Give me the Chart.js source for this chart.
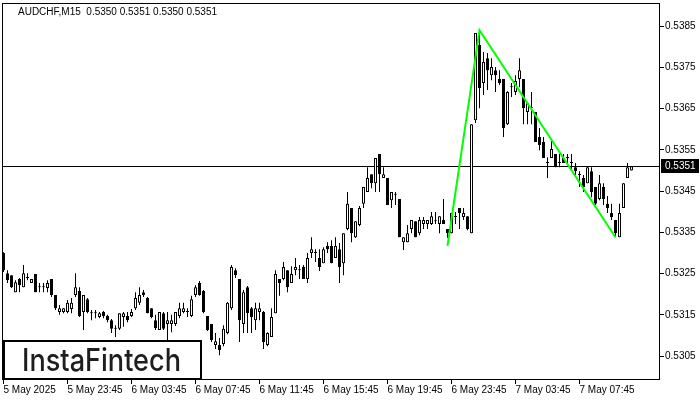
<!DOCTYPE html>
<html>
<head>
<meta charset="utf-8">
<script src="https://cdn.jsdelivr.net/npm/chart.js@4.4.1/dist/chart.umd.min.js"></script>
<style>
  html, body { margin: 0; padding: 0; background: #fff; }
  canvas { display: block; }
</style>
</head>
<body>
<canvas id="chart" width="700" height="400"></canvas>
<script>
// AUDCHF M15 bars, oldest first
const openP = [
  0.53300,0.53251,0.53246,0.53205,0.53237,0.53217,0.53239,0.53227,0.53249,0.53217,
  0.53217,0.53215,0.53237,0.53198,0.53157,0.53157,0.53157,0.53164,0.53198,0.53208,
  0.53157,0.53188,0.53154,0.53154,0.53145,0.53157,0.53147,0.53137,0.53116,0.53116,
  0.53145,0.53147,0.53147,0.53166,0.53179,0.53205,0.53191,0.53166,0.53137,0.53113,
  0.53154,0.53128,0.53128,0.53128,0.53147,0.53157,0.53157,0.53147,0.53198,0.53227,
  0.53208,0.53147,0.53128,0.53077,0.53077,0.53079,0.53106,0.53166,0.53258,0.53237,
  0.53128,0.53217,0.53166,0.53137,0.53157,0.53157,0.53077,0.53096,0.53154,0.53237,
  0.53237,0.53258,0.53227,0.53258,0.53258,0.53266,0.53237,0.53300,0.53300,0.53288,
  0.53275,0.53317,0.53317,0.53288,0.53309,0.53275,0.53358,0.53409,0.53338,0.53368,
  0.53419,0.53448,0.53491,0.53469,0.53540,0.53482,0.53482,0.53428,0.53440,0.53431,
  0.53326,0.53326,0.53358,0.53377,0.53348,0.53370,0.53370,0.53370,0.53377,0.53370,
  0.53380,0.53358,0.53348,0.53387,0.53409,0.53387,0.53389,0.53348,0.53622,0.53804,
  0.53712,0.53772,0.53731,0.53743,0.53722,0.53722,0.53612,0.53702,0.53690,0.53722,
  0.53722,0.53642,0.53651,0.53642,0.53581,0.53569,0.53518,0.53530,0.53540,0.53518,
  0.53530,0.53530,0.53518,0.53508,0.53489,0.53482,0.53469,0.53498,0.53460,0.53431,
  0.53460,0.53419,0.53397,0.53380,0.53338,0.53409,0.53482,0.53500
];
const highP = [
  0.53302,0.53258,0.53246,0.53234,0.53239,0.53271,0.53251,0.53237,0.53249,0.53227,
  0.53227,0.53234,0.53237,0.53198,0.53174,0.53166,0.53186,0.53191,0.53251,0.53217,
  0.53198,0.53191,0.53162,0.53162,0.53157,0.53159,0.53150,0.53140,0.53125,0.53154,
  0.53157,0.53157,0.53164,0.53205,0.53217,0.53210,0.53193,0.53166,0.53150,0.53157,
  0.53157,0.53157,0.53150,0.53157,0.53179,0.53179,0.53166,0.53196,0.53222,0.53232,
  0.53210,0.53147,0.53128,0.53106,0.53094,0.53125,0.53181,0.53271,0.53263,0.53237,
  0.53210,0.53220,0.53169,0.53179,0.53179,0.53159,0.53108,0.53166,0.53258,0.53237,
  0.53278,0.53258,0.53268,0.53288,0.53271,0.53271,0.53300,0.53338,0.53309,0.53309,
  0.53314,0.53326,0.53331,0.53338,0.53324,0.53348,0.53448,0.53409,0.53377,0.53414,
  0.53460,0.53508,0.53491,0.53530,0.53540,0.53508,0.53482,0.53448,0.53448,0.53431,
  0.53338,0.53368,0.53380,0.53377,0.53387,0.53387,0.53380,0.53399,0.53399,0.53389,
  0.53431,0.53358,0.53397,0.53399,0.53409,0.53409,0.53389,0.53612,0.53833,0.53840,
  0.53787,0.53785,0.53772,0.53751,0.53743,0.53722,0.53692,0.53712,0.53731,0.53772,
  0.53722,0.53663,0.53690,0.53642,0.53603,0.53581,0.53532,0.53574,0.53540,0.53540,
  0.53540,0.53540,0.53540,0.53518,0.53498,0.53489,0.53508,0.53508,0.53460,0.53489,
  0.53469,0.53438,0.53419,0.53380,0.53419,0.53469,0.53518,0.53510
];
const lowP = [
  0.53254,0.53227,0.53215,0.53205,0.53205,0.53217,0.53234,0.53227,0.53205,0.53205,
  0.53205,0.53205,0.53193,0.53162,0.53150,0.53154,0.53154,0.53154,0.53193,0.53145,
  0.53113,0.53154,0.53137,0.53142,0.53142,0.53142,0.53132,0.53106,0.53096,0.53113,
  0.53121,0.53132,0.53145,0.53162,0.53174,0.53193,0.53154,0.53142,0.53113,0.53113,
  0.53113,0.53089,0.53108,0.53123,0.53142,0.53154,0.53145,0.53145,0.53193,0.53196,
  0.53154,0.53111,0.53084,0.53067,0.53052,0.53074,0.53103,0.53162,0.53239,0.53084,
  0.53106,0.53106,0.53106,0.53113,0.53137,0.53067,0.53074,0.53096,0.53154,0.53196,
  0.53234,0.53205,0.53227,0.53246,0.53237,0.53237,0.53227,0.53288,0.53278,0.53256,
  0.53275,0.53300,0.53275,0.53288,0.53227,0.53246,0.53355,0.53326,0.53336,0.53365,
  0.53409,0.53448,0.53457,0.53448,0.53448,0.53482,0.53416,0.53409,0.53416,0.53338,
  0.53307,0.53326,0.53348,0.53338,0.53343,0.53358,0.53358,0.53368,0.53370,0.53348,
  0.53370,0.53336,0.53348,0.53370,0.53358,0.53380,0.53355,0.53348,0.53615,0.53651,
  0.53683,0.53695,0.53719,0.53690,0.53707,0.53581,0.53610,0.53678,0.53683,0.53702,
  0.53612,0.53612,0.53612,0.53569,0.53549,0.53530,0.53482,0.53530,0.53508,0.53508,
  0.53518,0.53518,0.53501,0.53489,0.53460,0.53448,0.53469,0.53435,0.53416,0.53428,
  0.53416,0.53397,0.53380,0.53338,0.53338,0.53409,0.53482,0.53500
];
const closeP = [
  0.53258,0.53234,0.53217,0.53229,0.53222,0.53251,0.53239,0.53237,0.53205,0.53217,
  0.53217,0.53227,0.53198,0.53166,0.53166,0.53166,0.53179,0.53179,0.53217,0.53147,
  0.53198,0.53157,0.53154,0.53154,0.53154,0.53147,0.53137,0.53116,0.53116,0.53154,
  0.53154,0.53137,0.53157,0.53191,0.53198,0.53198,0.53154,0.53145,0.53118,0.53157,
  0.53116,0.53137,0.53137,0.53157,0.53166,0.53166,0.53157,0.53188,0.53217,0.53198,
  0.53157,0.53113,0.53089,0.53086,0.53065,0.53116,0.53179,0.53266,0.53246,0.53137,
  0.53205,0.53154,0.53145,0.53166,0.53166,0.53084,0.53106,0.53145,0.53249,0.53227,
  0.53266,0.53217,0.53249,0.53266,0.53258,0.53237,0.53288,0.53309,0.53300,0.53266,
  0.53309,0.53309,0.53275,0.53317,0.53266,0.53348,0.53419,0.53348,0.53377,0.53409,
  0.53460,0.53482,0.53469,0.53530,0.53491,0.53491,0.53416,0.53448,0.53440,0.53338,
  0.53338,0.53348,0.53380,0.53338,0.53380,0.53380,0.53380,0.53389,0.53377,0.53389,
  0.53370,0.53348,0.53397,0.53387,0.53397,0.53397,0.53358,0.53612,0.53833,0.53700,
  0.53763,0.53743,0.53751,0.53731,0.53712,0.53603,0.53690,0.53702,0.53717,0.53743,
  0.53651,0.53663,0.53651,0.53569,0.53562,0.53530,0.53518,0.53552,0.53508,0.53518,
  0.53518,0.53530,0.53518,0.53498,0.53489,0.53460,0.53508,0.53448,0.53419,0.53469,
  0.53431,0.53409,0.53387,0.53348,0.53397,0.53469,0.53508,0.53510
];

// axis ticks: prices on the right, a time label every 16 bars
const priceTicks = [0.5305, 0.5315, 0.5325, 0.5335, 0.5345, 0.5355, 0.5365, 0.5375, 0.5385];
const timeTickBars = [0, 16, 32, 48, 64, 80, 96, 112, 128, 144];
const timeLabels = ['5 May 2025', '5 May 23:45', '6 May 03:45', '6 May 07:45', '6 May 11:45',
  '6 May 15:45', '6 May 19:45', '6 May 23:45', '7 May 03:45', '7 May 07:45'];

// lime pattern outline (bar index, price)
const patternBars = [111, 119, 153];
const patternPrices = [0.53317, 0.53840, 0.53338];

const symbol = 'AUDCHF,M15';

const FONT = '"Liberation Sans", Arial, sans-serif';
const last = closeP.length - 1;

const wicks = lowP.map((l, i) => ({ x: i, y: [l, highP[i]] }));
const bodies = openP.map((o, i) => ({ x: i, y: [o, closeP[i]] }));
const bodyFill = openP.map((o, i) => (closeP[i] >= o ? '#ffffff' : '#000000'));
const pattern = patternBars.map((b, i) => ({ x: b, y: patternPrices[i] }));

// bid line, frame, header text, bid label and logo
const decor = {
  id: 'decor',
  beforeDatasetsDraw(chart) {
    const { ctx, chartArea: a, scales: { y } } = chart;
    const py = Math.round(y.getPixelForValue(closeP[last])) + 0.5;
    ctx.save();
    ctx.strokeStyle = '#000';
    ctx.lineWidth = 1;
    ctx.beginPath();
    ctx.moveTo(a.left, py);
    ctx.lineTo(a.right, py);
    ctx.stroke();
    ctx.restore();
  },
  afterDraw(chart) {
    const { ctx, chartArea: a, scales: { y } } = chart;
    ctx.save();

    ctx.strokeStyle = '#000';
    ctx.lineWidth = 1;
    ctx.strokeRect(a.left + 0.5, a.top + 0.5, a.right - a.left - 1, a.bottom - a.top - 1);

    ctx.fillStyle = '#000';
    ctx.font = '10px ' + FONT;
    ctx.textBaseline = 'middle';
    ctx.textAlign = 'left';
    const vals = [openP[last], highP[last], lowP[last], closeP[last]].map(v => v.toFixed(4)).join(' ');
    ctx.fillText(symbol + '  ' + vals, 18, 12.5);

    // bid price tag on the axis
    const py = Math.round(y.getPixelForValue(closeP[last]));
    ctx.fillRect(a.right + 1, py - 7, 38, 14);
    ctx.fillStyle = '#fff';
    ctx.fillText(closeP[last].toFixed(4), a.right + 5, py + 0.5);

    // logo box
    ctx.fillStyle = '#fff';
    ctx.fillRect(3, 340, 198, 39);
    ctx.lineWidth = 2;
    ctx.strokeStyle = '#000';
    ctx.strokeRect(4, 341, 197, 38);
    ctx.fillStyle = '#1e1e1e';
    ctx.font = '500 31px Inter, Lato, sans-serif';
    ctx.textBaseline = 'alphabetic';
    const w = ctx.measureText('InstaFintech').width;
    ctx.translate(22, 371);
    ctx.scale(159 / w, 1);
    ctx.fillText('InstaFintech', 0, 0);

    ctx.restore();
  }
};

new Chart(document.getElementById('chart'), {
  type: 'bar',
  data: {
    datasets: [
      {
        type: 'line',
        data: pattern,
        borderColor: '#00ff00',
        borderWidth: 2,
        pointRadius: 0,
        tension: 0,
        fill: false
      },
      {
        data: bodies,
        backgroundColor: bodyFill,
        borderColor: '#000',
        borderWidth: 1,
        borderSkipped: false,
        barThickness: 3,
        minBarLength: 1,
        inflateAmount: 0,
        grouped: false
      },
      {
        data: wicks,
        backgroundColor: '#000',
        borderWidth: 0,
        barThickness: 1,
        inflateAmount: 0,
        grouped: false
      }
    ]
  },
  options: {
    responsive: false,
    animation: false,
    events: [],
    layout: { padding: { left: 2, top: 3, right: 0, bottom: 0 } },
    plugins: { legend: { display: false }, tooltip: { enabled: false }, title: { display: false } },
    scales: {
      x: {
        type: 'linear',
        offset: false,
        min: -0.375,
        max: 164.125,
        grid: { drawOnChartArea: false, drawTicks: true, tickLength: 4, color: '#000', offset: false },
        border: { display: false },
        afterBuildTicks: s => { s.ticks = timeTickBars.map(v => ({ value: v })); },
        afterFit: s => { s.height = 20; s.paddingLeft = 0; s.paddingRight = 0; },
        ticks: {
          autoSkip: false,
          maxRotation: 0,
          align: 'start',
          padding: 0,
          color: '#000',
          font: { family: FONT, size: 10 },
          callback: (v, i) => timeLabels[i]
        }
      },
      y: {
        type: 'linear',
        position: 'right',
        beginAtZero: false,
        min: 0.52992,
        max: 0.53906,
        grid: { drawOnChartArea: false, drawTicks: true, tickLength: 4, color: '#000' },
        border: { display: false },
        afterBuildTicks: s => { s.ticks = priceTicks.map(v => ({ value: v })); },
        afterFit: s => { s.width = 40; s.paddingTop = 0; s.paddingBottom = 0; },
        ticks: {
          padding: 1,
          color: '#000',
          font: { family: FONT, size: 10 },
          callback: v => v.toFixed(4)
        }
      }
    }
  },
  plugins: [decor]
});
</script>
</body>
</html>
